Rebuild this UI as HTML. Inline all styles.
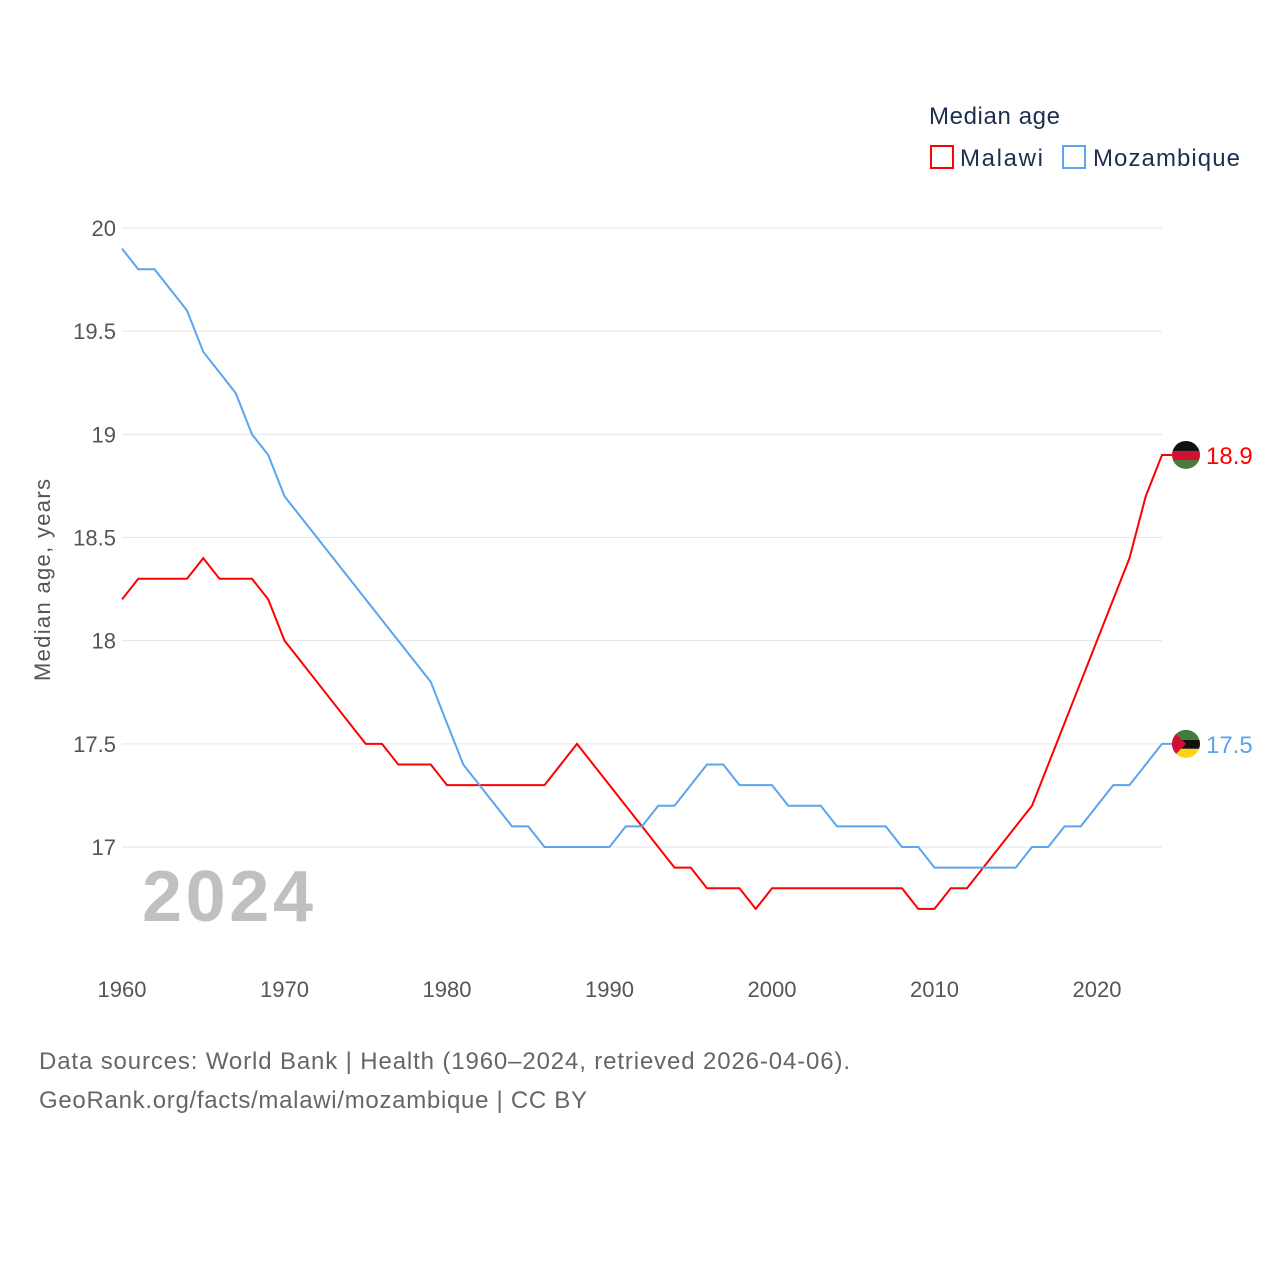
<!DOCTYPE html>
<html><head><meta charset="utf-8"><style>
body{margin:0;background:#fff;font-family:"Liberation Sans",sans-serif;}
</style></head><body>
<svg width="1280" height="1280" viewBox="0 0 1280 1280" xmlns="http://www.w3.org/2000/svg" style="font-family:'Liberation Sans',sans-serif">
<g id="grid"></g>
<g id="yticks"></g>
<g id="xticks"></g>
<text x="50" y="580" transform="rotate(-90 50 580)" text-anchor="middle" font-size="22" fill="#555" textLength="202">Median age, years</text>
<text x="142" y="921" font-size="72" font-weight="bold" fill="#c0c0c0" textLength="171">2024</text>
<g id="series"></g>
<g>
<text x="929" y="124" font-size="24" fill="#1d2f4e" textLength="131">Median age</text>
<rect x="931" y="146" width="22" height="22" fill="none" stroke="#f00" stroke-width="2"/>
<text x="960" y="166" font-size="24" fill="#1d2f4e" textLength="83">Malawi</text>
<rect x="1063" y="146" width="22" height="22" fill="none" stroke="#5ba4ee" stroke-width="2"/>
<text x="1093" y="166" font-size="24" fill="#1d2f4e" textLength="147">Mozambique</text>
</g>
<text x="39" y="1069" font-size="24" fill="#666" textLength="811">Data sources: World Bank | Health (1960–2024, retrieved 2026-04-06).</text>
<text x="39" y="1108" font-size="24" fill="#666" textLength="548">GeoRank.org/facts/malawi/mozambique | CC BY</text>
</svg>
<script>
const years=[];for(let y=1960;y<=2024;y++)years.push(y);
const malawi=[18.2,18.3,18.3,18.3,18.3,18.4,18.3,18.3,18.3,18.2,18.0,17.9,17.8,17.7,17.6,17.5,17.5,17.4,17.4,17.4,17.3,17.3,17.3,17.3,17.3,17.3,17.3,17.4,17.5,17.4,17.3,17.2,17.1,17.0,16.9,16.9,16.8,16.8,16.8,16.7,16.8,16.8,16.8,16.8,16.8,16.8,16.8,16.8,16.8,16.7,16.7,16.8,16.8,16.9,17.0,17.1,17.2,17.4,17.6,17.8,18.0,18.2,18.4,18.7,18.9];
const mozambique=[19.9,19.8,19.8,19.7,19.6,19.4,19.3,19.2,19.0,18.9,18.7,18.6,18.5,18.4,18.3,18.2,18.1,18.0,17.9,17.8,17.6,17.4,17.3,17.2,17.1,17.1,17.0,17.0,17.0,17.0,17.0,17.1,17.1,17.2,17.2,17.3,17.4,17.4,17.3,17.3,17.3,17.2,17.2,17.2,17.1,17.1,17.1,17.1,17.0,17.0,16.9,16.9,16.9,16.9,16.9,16.9,17.0,17.0,17.1,17.1,17.2,17.3,17.3,17.4,17.5];
const yTicks=[17,17.5,18,18.5,19,19.5,20];
const yTickLabels=["17","17.5","18","18.5","19","19.5","20"];
const xTicks=[1960,1970,1980,1990,2000,2010,2020];
const NS="http://www.w3.org/2000/svg";
const X=y=>122+(y-1960)*16.25;
const Y=v=>847-(v-17)*206.33;
function mk(t,a,p){const e=document.createElementNS(NS,t);for(const k in a)e.setAttribute(k,a[k]);p.appendChild(e);return e;}
const grid=document.getElementById('grid'),yt=document.getElementById('yticks'),xt=document.getElementById('xticks'),ser=document.getElementById('series');
yTicks.forEach((v,i)=>{
 const l=mk('line',{x1:122,x2:1162,y1:Y(v),y2:Y(v),stroke:'#e6e6e6','stroke-width':1},grid);
 
 
 const t=mk('text',{x:116,y:Y(v)+8,'text-anchor':'end','font-size':22,fill:'#555'},yt);
 t.textContent=yTickLabels[i];
 
 
});
xTicks.forEach(v=>{
 const t=mk('text',{x:X(v),y:997,'text-anchor':'middle','font-size':22,fill:'#555'},xt);
 t.textContent=v;
 
 
});
function series(vals,color,name,flag){
 let d=vals.map((v,i)=>(i?'L':'M')+X(years[i])+' '+Y(v)).join(' ');
 const last=vals[vals.length-1];
 d+=' L1172 '+Y(last);
 const p=mk('path',{d:d,fill:'none',stroke:color,'stroke-width':2},ser);
 
 
 const cy=Y(last);
 const g=mk('g',{},ser);
 
 
 flag(g,cy);
 const t=mk('text',{x:1206,y:cy+9,'font-size':24,fill:color},ser);
 t.textContent=last.toFixed(1);
 
 
}
series(malawi,'#ff0000','malawi',(g,cy)=>{
 const c=mk('clipPath',{id:'cm'},g);mk('circle',{cx:1186,cy:cy,r:14},c);
 const h=mk('g',{'clip-path':'url(#cm)'},g);
 mk('rect',{x:1172,y:cy-14,width:28,height:10,fill:'#111'},h);
 mk('rect',{x:1172,y:cy-4,width:28,height:9,fill:'#d21034'},h);
 mk('rect',{x:1172,y:cy+5,width:28,height:10,fill:'#4d7a3a'},h);
});
series(mozambique,'#5ba4ee','mozambique',(g,cy)=>{
 const c=mk('clipPath',{id:'cz'},g);mk('circle',{cx:1186,cy:cy,r:14},c);
 const h=mk('g',{'clip-path':'url(#cz)'},g);
 mk('rect',{x:1172,y:cy-14,width:28,height:10,fill:'#3f7f3a'},h);
 mk('rect',{x:1172,y:cy-4,width:28,height:9,fill:'#111'},h);
 mk('rect',{x:1172,y:cy+5,width:28,height:10,fill:'#fcd116'},h);
 mk('polygon',{points:`1172,${cy-14} 1186,${cy} 1172,${cy+14}`,fill:'#d21034'},h);
});
</script>
</body></html>
